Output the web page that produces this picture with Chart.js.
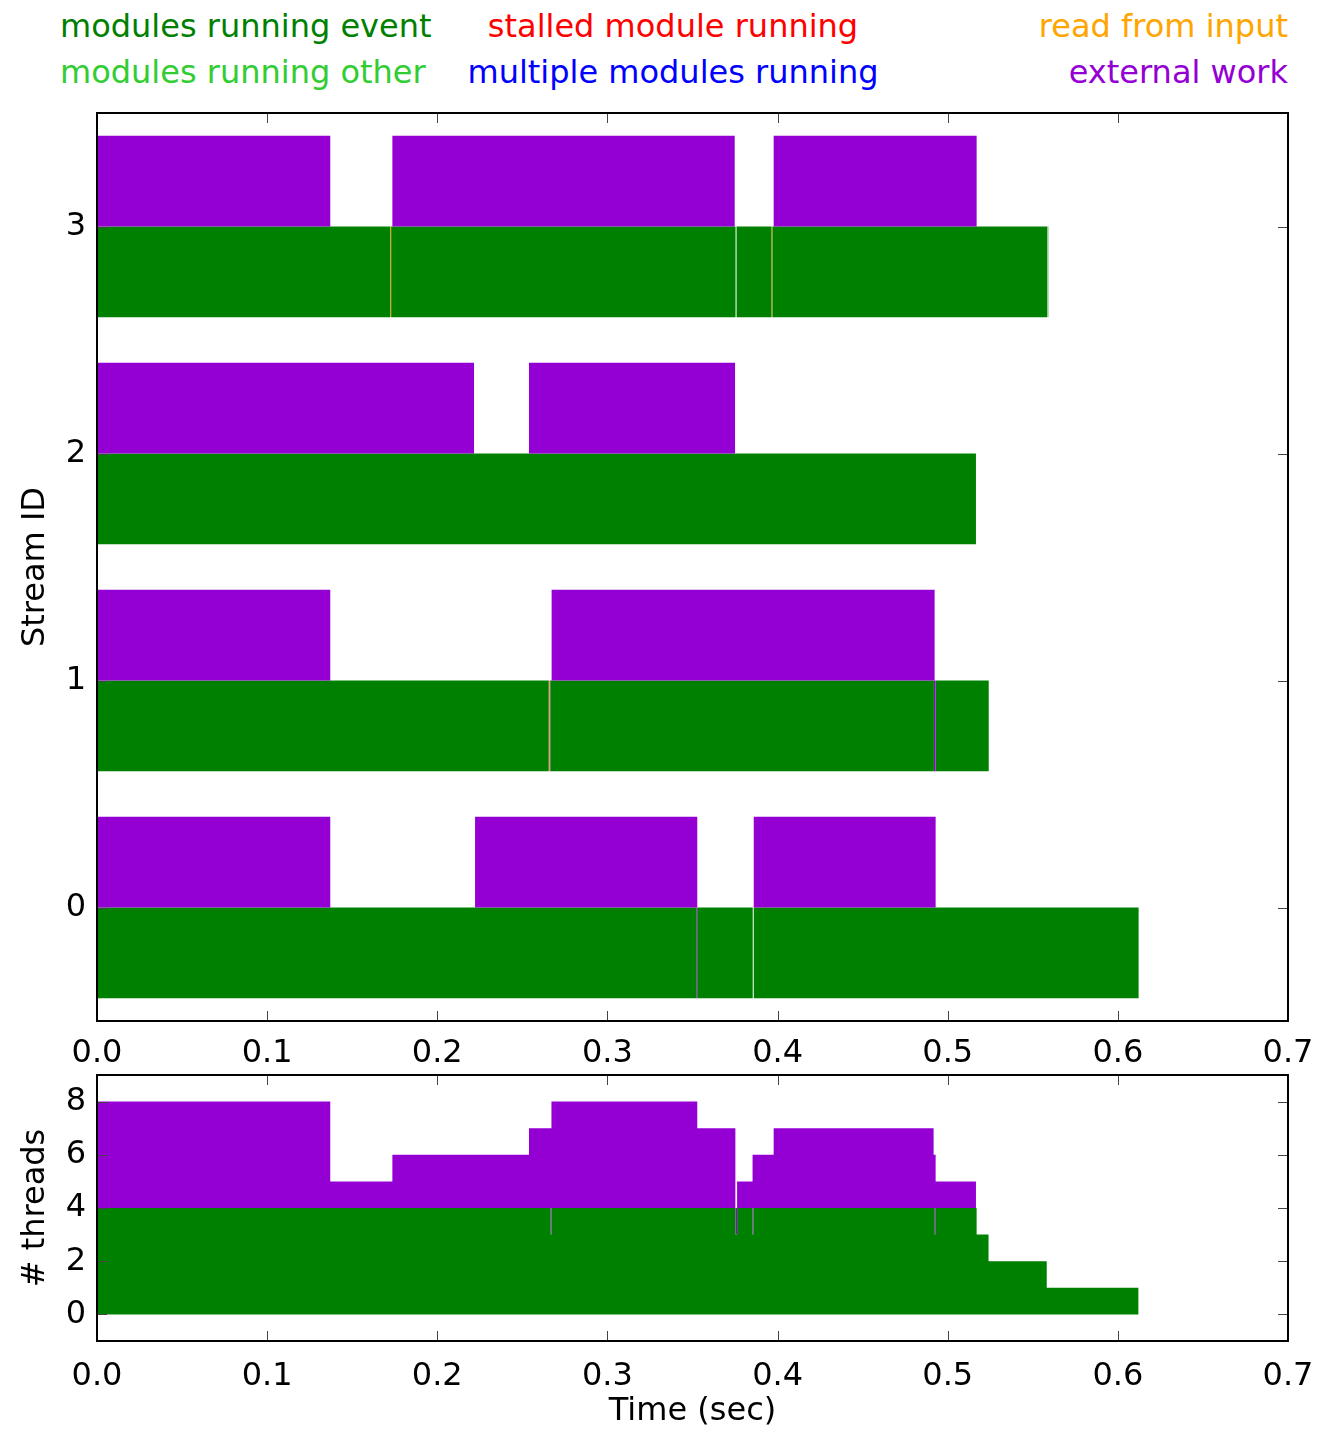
<!DOCTYPE html>
<html>
<head>
<meta charset="utf-8">
<script src="https://cdn.jsdelivr.net/npm/chart.js@4.4.1/dist/chart.umd.min.js"></script>
<style>
  body { margin: 0; background: #fff; font-family: 'DejaVu Sans', sans-serif; }
  #page { position: relative; width: 1340px; height: 1429px; }
  .leg { position: absolute; font-size: 32px; line-height: 32px; white-space: nowrap; }
  .mid { transform: translateX(-50%); }
  #c1 { position: absolute; left: 0; top: 100px; }
  #c2 { position: absolute; left: 0; top: 1060px; }
</style>
</head>
<body>
<div id="page">
  <div class="leg" style="left:60px;top:10px;color:#008000">modules running event</div>
  <div class="leg mid" style="left:673px;top:10px;color:#ff0000">stalled module running</div>
  <div class="leg" style="right:52px;top:10px;color:#ffa500">read from input</div>
  <div class="leg" style="left:60px;top:56px;color:#32cd32">modules running other</div>
  <div class="leg mid" style="left:673px;top:56px;color:#0000ff">multiple modules running</div>
  <div class="leg" style="right:52px;top:56px;color:#9400d3">external work</div>
  <canvas id="c2" width="1340" height="369"></canvas>
  <canvas id="c1" width="1340" height="990"></canvas>
</div>
<script>
// stream ids, top to bottom
var streamLabels = ['3', '2', '1', '0'];
var timeTicks = [0, 0.1, 0.2, 0.3, 0.4, 0.5, 0.6, 0.7];
var threadTicks = [0, 2, 4, 6, 8];

// intervals [start, end] in seconds, indexed by stream id
var externalWork = [
  [[0, 0.1371], [0.2222, 0.3528], [0.3860, 0.4929]],
  [[0, 0.1371], [0.2672, 0.4923]],
  [[0, 0.2216], [0.2539, 0.3750]],
  [[0, 0.1371], [0.1736, 0.3748], [0.3977, 0.5170]]
];
var modulesEvent = [
  [[0, 0.3525], [0.3531, 0.3854], [0.3860, 0.6122]],
  [[0, 0.2655], [0.2665, 0.4919], [0.4929, 0.5241]],
  [[0, 0.5166]],
  [[0, 0.1723], [0.1729, 0.3753], [0.3759, 0.3964], [0.3970, 0.5585], [0.5588, 0.5591]]
];
var readInput = [
  [],
  [[0.2655, 0.2660]],
  [],
  [[0.1723, 0.1729], [0.3964, 0.3970]]
];
var externalInRow = [
  [[0.3525, 0.3531]],
  [[0.2660, 0.2665], [0.4919, 0.4929]],
  [],
  []
];

// thread counts (step function)
var threadTimes =   [0, 0.1371, 0.1736, 0.2539, 0.2665, 0.2671, 0.3528, 0.3752, 0.3762, 0.3853, 0.3859, 0.3977, 0.4917, 0.4921, 0.4927, 0.4929, 0.5166, 0.5170, 0.5240, 0.5582, 0.6122];
var threadsModules = [4, 4, 4, 4, 3, 4, 4, 3, 4, 3, 4, 4, 4, 3, 4, 4, 4, 3, 2, 1, 0];
var threadsTotal =   [8, 5, 6, 7, 7, 8, 7, 4, 5, 6, 6, 7, 6, 6, 6, 5, 4, 3, 2, 1, 0];

var GREEN = '#008000', PURPLE = '#9400d3', ORANGE = '#ffa500';

Chart.defaults.font.family = "'DejaVu Sans', sans-serif";
Chart.defaults.font.size = 32;
Chart.defaults.color = '#000';
Chart.defaults.animation = false;

// box around the plot and inward ticks on all four sides
var frameTicks = {
  id: 'frameTicks',
  afterDraw: function (chart) {
    var ctx = chart.ctx, a = chart.chartArea;
    var xs = chart.scales.x, ys = chart.scales.y;
    ctx.save();
    ctx.strokeStyle = '#444';
    ctx.lineWidth = 1;
    ctx.beginPath();
    xs.ticks.forEach(function (t, i) {
      var px = Math.round(xs.getPixelForTick(i)) + 0.5;
      ctx.moveTo(px, a.bottom); ctx.lineTo(px, a.bottom - 10);
      ctx.moveTo(px, a.top); ctx.lineTo(px, a.top + 10);
    });
    ys.ticks.forEach(function (t, i) {
      var py = Math.round(ys.getPixelForTick(i)) + 0.5;
      ctx.moveTo(a.left, py); ctx.lineTo(a.left + 10, py);
      ctx.moveTo(a.right, py); ctx.lineTo(a.right - 10, py);
    });
    ctx.stroke();
    ctx.strokeStyle = '#000';
    ctx.lineWidth = 2;
    ctx.strokeRect(a.left, a.top, a.right - a.left, a.bottom - a.top);
    ctx.restore();
  }
};

function intervalDatasets(series, color, stack) {
  var n = 0;
  series.forEach(function (s) { n = Math.max(n, s.length); });
  var out = [];
  for (var j = 0; j < n; j++) {
    out.push({
      data: streamLabels.map(function (id) { return series[Number(id)][j] || null; }),
      backgroundColor: color,
      borderWidth: 0,
      stack: stack
    });
  }
  return out;
}

function fixX(h) {
  return function (s) { s.height = h; s.paddingLeft = 0; s.paddingRight = 0; };
}
function fixY(s) { s.width = 97; s.paddingTop = 0; s.paddingBottom = 0; }

var timeAxis = {
  type: 'linear',
  min: 0,
  max: 0.7,
  grid: { display: false },
  border: { display: false },
  afterBuildTicks: function (s) { s.ticks = timeTicks.map(function (v) { return { value: v }; }); },
  ticks: { autoSkip: false, maxRotation: 0, padding: 8, callback: function (v) { return v.toFixed(1); } }
};

var barDatasets = []
  .concat(intervalDatasets(externalWork, PURPLE, 'ext'))
  .concat(intervalDatasets(modulesEvent, GREEN, 'mod'))
  .concat(intervalDatasets(readInput, ORANGE, 'mod'))
  .concat(intervalDatasets(externalInRow, PURPLE, 'mod'));

new Chart(document.getElementById('c1'), {
  type: 'bar',
  data: { labels: streamLabels, datasets: barDatasets },
  options: {
    responsive: false,
    indexAxis: 'y',
    categoryPercentage: 0.8,
    barPercentage: 1.0,
    layout: { padding: { left: 0, right: 52, top: 13, bottom: 0 } },
    plugins: { legend: { display: false }, tooltip: { enabled: false } },
    scales: {
      x: Object.assign({}, timeAxis, {
        stacked: false,
        ticks: Object.assign({}, timeAxis.ticks, { padding: 5 }),
        afterFit: fixX(69)
      }),
      y: {
        type: 'category',
        grid: { display: false },
        border: { display: false },
        ticks: { padding: 3 },
        title: { display: true, text: 'Stream ID', padding: { top: 16, bottom: 0 } },
        afterFit: fixY
      }
    }
  },
  plugins: [frameTicks]
});

function points(values) {
  return threadTimes.map(function (t, i) { return { x: t, y: values[i] }; });
}

new Chart(document.getElementById('c2'), {
  type: 'line',
  data: {
    datasets: [
      {
        data: points(threadsModules),
        stepped: true,
        fill: 'origin',
        backgroundColor: GREEN,
        borderColor: 'rgba(0,0,0,0)',
        borderWidth: 0,
        pointRadius: 0
      },
      {
        data: points(threadsTotal),
        stepped: true,
        fill: '-1',
        backgroundColor: PURPLE,
        borderColor: 'rgba(0,0,0,0)',
        borderWidth: 0,
        pointRadius: 0
      }
    ]
  },
  options: {
    responsive: false,
    layout: { padding: { left: 0, right: 52, top: 15, bottom: 0 } },
    plugins: { legend: { display: false }, tooltip: { enabled: false } },
    scales: {
      x: Object.assign({}, timeAxis, {
        title: { display: true, text: 'Time (sec)', font: { lineHeight: 1 }, padding: { top: 0, bottom: 1 } },
        afterFit: fixX(88)
      }),
      y: {
        type: 'linear',
        min: -1,
        max: 9,
        grid: { display: false },
        border: { display: false },
        afterBuildTicks: function (s) { s.ticks = threadTicks.map(function (v) { return { value: v }; }); },
        ticks: { padding: 3 },
        title: { display: true, text: '# threads', padding: { top: 16, bottom: 0 } },
        afterFit: fixY
      }
    }
  },
  plugins: [frameTicks]
});
</script>
</body>
</html>
